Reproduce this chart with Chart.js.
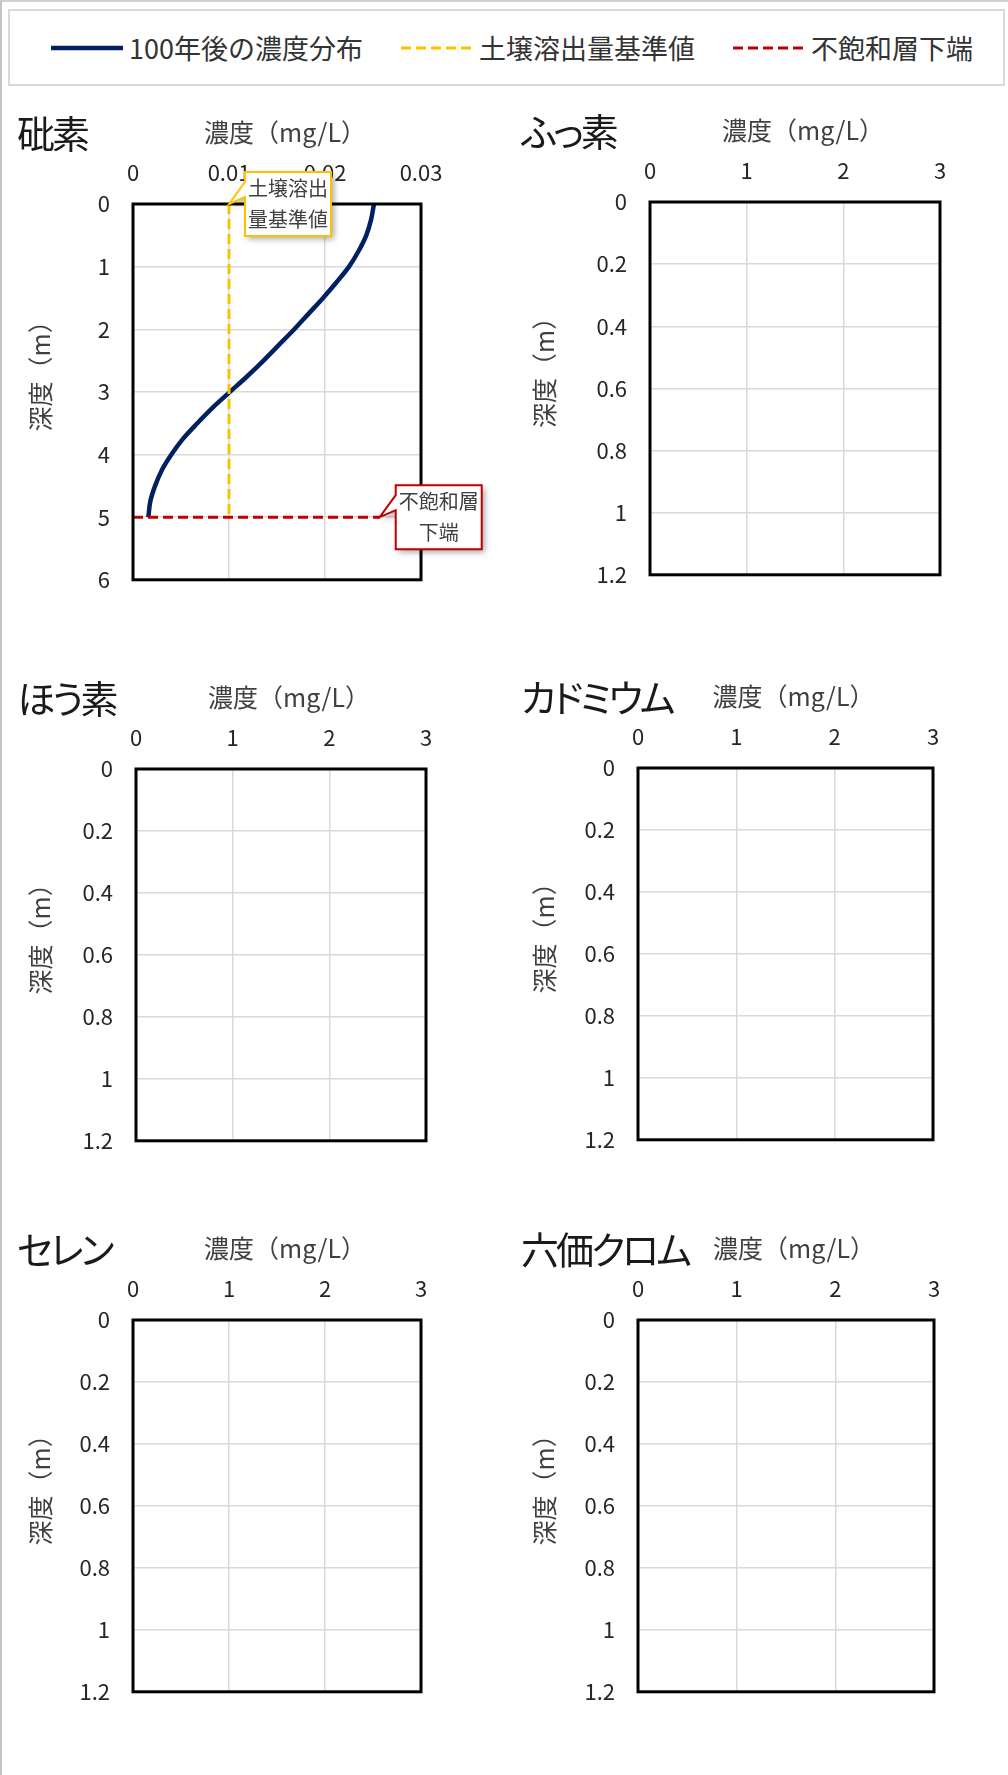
<!DOCTYPE html>
<html lang="ja">
<head>
<meta charset="utf-8">
<title>100年後の濃度分布</title>
<script src="https://cdn.jsdelivr.net/npm/chart.js@4.4.1/dist/chart.umd.min.js"></script>
<style>
  html, body { margin: 0; padding: 0; background: #fff; }
  body { width: 1008px; height: 1775px; position: relative; overflow: hidden;
         font-family: "Noto Sans CJK JP", "Noto Sans", sans-serif; }
  #frame { position: absolute; left: 0; top: 0; width: 1008px; height: 1775px; box-sizing: border-box;
           border-left: 2px solid #c4c4c4; border-top: 2px solid #d0d0d0; }
  #legend { position: absolute; left: 8px; top: 9px; width: 997px; height: 77px; box-sizing: border-box;
            border: 2px solid #d9d9d9; display: flex; align-items: center; padding-left: 41px; gap: 38px; }
  .item { display: flex; align-items: center; font-size: 27px; color: #333; white-space: nowrap; }
  .item svg { margin-right: 6px; }
  .panel-title { position: absolute; font-size: 38px; line-height: 38px; color: #1a1a1a;
                 font-feature-settings: "palt"; letter-spacing: -3px; white-space: nowrap; }
  canvas { position: absolute; }
</style>
</head>
<body>
<div id="frame"></div>
<div id="legend"></div>

<script>
// ---- data ----
const panelNames = ["砒素", "ふっ素", "ほう素", "カドミウム", "セレン", "六価クロム"];
const concMax = [0.03, 3, 3, 3, 3, 3];
const depthMax = [6, 1.2, 1.2, 1.2, 1.2, 1.2];
const arsenicConcTicks = [0, 0.01, 0.02, 0.03];
const concTicks = [0, 1, 2, 3];
const arsenicDepthTicks = [0, 1, 2, 3, 4, 5, 6];
const depthTicks = [0, 0.2, 0.4, 0.6, 0.8, 1, 1.2];
const xTitle = "濃度（mg/L）";
const yTitle = "深度（m）";

const seriesNames = ["100年後の濃度分布", "土壌溶出量基準値", "不飽和層下端"];

// arsenic profile after 100 years (depth m, concentration mg/L)
const arsenicDepth = [0, 0.25, 0.5, 0.75, 1, 1.25, 1.5, 1.75, 2, 2.25, 2.5,
                      2.75, 3, 3.25, 3.5, 3.75, 4, 4.25, 4.5, 4.75, 5];
const arsenicConc = [0.0251, 0.0248, 0.0243, 0.0235, 0.0225, 0.0212, 0.0198, 0.0183, 0.0168, 0.0152, 0.0136,
                     0.0119, 0.0101, 0.0083, 0.0067, 0.0052, 0.0040, 0.0030, 0.0023, 0.0018, 0.0016];
const standardConc = [0.01, 0.01];
const standardDepth = [0, 5];
const bottomConc = [0, 0.0257];
const bottomDepth = [5, 5];
const calloutText = [["土壌溶出", "量基準値"], ["不飽和層", "下端"]];

// ---- styles / layout ----
const seriesColors = ["#002060", "#FFC000", "#C00000"];
const seriesWidths = [4.5, 3, 3];
const seriesDash = [[], [10, 5], [10, 5]];
// plot area [left, top, right, bottom] of each panel
const plotRects = [
  [133, 204, 421, 596], [650, 202, 940, 591],
  [136, 769, 426, 1157], [638, 768, 933, 1156],
  [133, 1320, 421, 1708], [638, 1320, 934, 1708]
];

Chart.defaults.font.family = "'Noto Sans CJK JP', 'Noto Sans', sans-serif";

const toPoints = (xs, ys) => xs.map((v, i) => ({ x: v, y: ys[i] }));
const fmt = v => String(+Number(v).toFixed(4));

// legend (shared by all panels)
const legendEl = document.getElementById("legend");
seriesNames.forEach((name, i) => {
  const item = document.createElement("div");
  item.className = "item";
  const dash = seriesDash[i].length ? `stroke-dasharray="${seriesDash[i].join(" ")}"` : "";
  item.innerHTML = `<svg width="72" height="8"><line x1="0" y1="4" x2="72" y2="4" stroke="${seriesColors[i]}"
    stroke-width="${seriesWidths[i]}" ${dash}/></svg><span>${name}</span>`;
  legendEl.appendChild(item);
});

// thick black frame around the plot area
const frameBox = {
  id: "frameBox",
  afterDatasetsDraw(chart) {
    const { ctx, chartArea: a } = chart;
    ctx.save();
    ctx.strokeStyle = "#000";
    ctx.lineWidth = 3;
    ctx.strokeRect(a.left, a.top, a.right - a.left, a.bottom - a.top);
    ctx.restore();
  }
};

// axis titles, placed like the spreadsheet does
const axisTitles = {
  id: "axisTitles",
  afterDraw(chart) {
    const { ctx, chartArea: a } = chart;
    ctx.save();
    ctx.fillStyle = "#404040";
    ctx.font = "25px 'Noto Sans CJK JP'";
    ctx.textAlign = "center";
    ctx.textBaseline = "middle";
    ctx.fillText(xTitle, (a.left + a.right) / 2 + 8, a.top - 72);
    ctx.translate(40, (a.top + a.bottom) / 2 - 22);
    ctx.rotate(-Math.PI / 2);
    ctx.fillText(yTitle, 0, 0);
    ctx.restore();
  }
};

// callout boxes attached to a data point
const callouts = {
  id: "callouts",
  afterDraw(chart, args, opts) {
    if (!opts.items) return;
    const { ctx, scales: { x, y } } = chart;
    opts.items.forEach(item => {
      const tx = x.getPixelForValue(item.x), ty = y.getPixelForValue(item.y);
      const bx = tx + 16, by = ty - 32, bw = 86, bh = 64;
      ctx.save();
      ctx.beginPath();
      ctx.moveTo(bx, by);
      ctx.lineTo(bx + bw, by);
      ctx.lineTo(bx + bw, by + bh);
      ctx.lineTo(bx, by + bh);
      ctx.lineTo(bx, ty - 7);
      ctx.lineTo(tx, ty);
      ctx.lineTo(bx, ty - 22);
      ctx.closePath();
      ctx.shadowColor = "rgba(0,0,0,0.35)";
      ctx.shadowBlur = 6;
      ctx.shadowOffsetX = 3;
      ctx.shadowOffsetY = 3;
      ctx.fillStyle = "#fff";
      ctx.fill();
      ctx.shadowColor = "transparent";
      ctx.lineWidth = 2;
      ctx.strokeStyle = item.color;
      ctx.stroke();
      ctx.fillStyle = "#404040";
      ctx.font = "20px 'Noto Sans CJK JP'";
      ctx.textAlign = "center";
      ctx.textBaseline = "middle";
      item.lines.forEach((t, k) => ctx.fillText(t, bx + bw / 2, by + bh / 2 + (k - 0.5) * 31));
      ctx.restore();
    });
  }
};

panelNames.forEach((name, i) => {
  const [pl, pt, pr, pb] = plotRects[i];
  const colX = i % 2 === 0 ? 0 : 504;
  const isArsenic = i === 0;

  const canvas = document.createElement("canvas");
  canvas.width = 504;
  canvas.height = pb - pt + 130;
  canvas.style.left = colX + "px";
  canvas.style.top = (pt - 110) + "px";
  document.body.appendChild(canvas);

  const title = document.createElement("div");
  title.className = "panel-title";
  title.textContent = name;
  title.style.left = (colX + 17) + "px";
  title.style.top = (pt - 70 - 21) + "px";
  document.body.appendChild(title);

  const xTicks = isArsenic ? arsenicConcTicks : concTicks;
  const yTicks = isArsenic ? arsenicDepthTicks : depthTicks;

  const datasets = !isArsenic ? [] : [
    { label: seriesNames[0], data: toPoints(arsenicConc, arsenicDepth), showLine: true,
      borderColor: seriesColors[0], borderWidth: seriesWidths[0], cubicInterpolationMode: "monotone",
      pointRadius: 0, order: 3 },
    { label: seriesNames[1], data: toPoints(standardConc, standardDepth), showLine: true,
      borderColor: seriesColors[1], borderWidth: seriesWidths[1], borderDash: seriesDash[1], pointRadius: 0, order: 2 },
    { label: seriesNames[2], data: toPoints(bottomConc, bottomDepth), showLine: true,
      borderColor: seriesColors[2], borderWidth: seriesWidths[2], borderDash: seriesDash[2], pointRadius: 0, order: 1 }
  ];

  const calloutItems = !isArsenic ? null : [
    { x: standardConc[0], y: standardDepth[0], lines: calloutText[0], color: seriesColors[1] },
    { x: bottomConc[bottomConc.length - 1], y: bottomDepth[bottomDepth.length - 1], lines: calloutText[1], color: seriesColors[2] }
  ];

  new Chart(canvas, {
    type: "scatter",
    data: { datasets },
    options: {
      indexAxis: "y",
      responsive: false,
      animation: false,
      layout: { padding: { left: 0, top: 0, right: colX + 504 - pr, bottom: 20 } },
      plugins: {
        legend: { display: false },
        tooltip: { enabled: false },
        callouts: { items: calloutItems }
      },
      scales: {
        x: {
          type: "linear", position: "top", min: 0, max: concMax[i],
          afterBuildTicks: s => { s.ticks = xTicks.map(v => ({ value: v })); },
          afterFit: s => { s.height = 110; },
          grid: { color: "#d9d9d9", lineWidth: 1.5, drawTicks: false },
          border: { display: false },
          ticks: { padding: 18, color: "#262626", font: { size: 22 }, maxRotation: 0, autoSkip: false, callback: fmt },
          title: { display: false }
        },
        y: {
          type: "linear", position: "left", reverse: true, min: 0, max: depthMax[i],
          afterBuildTicks: s => { s.ticks = yTicks.map(v => ({ value: v })); },
          afterFit: s => { s.width = pl - colX; },
          grid: { color: "#d9d9d9", lineWidth: 1.5, drawTicks: false },
          border: { display: false },
          ticks: { padding: 23, color: "#262626", font: { size: 22 }, autoSkip: false, callback: fmt },
          title: { display: false }
        }
      }
    },
    plugins: [frameBox, axisTitles, callouts]
  });
});
</script>
</body>
</html>
